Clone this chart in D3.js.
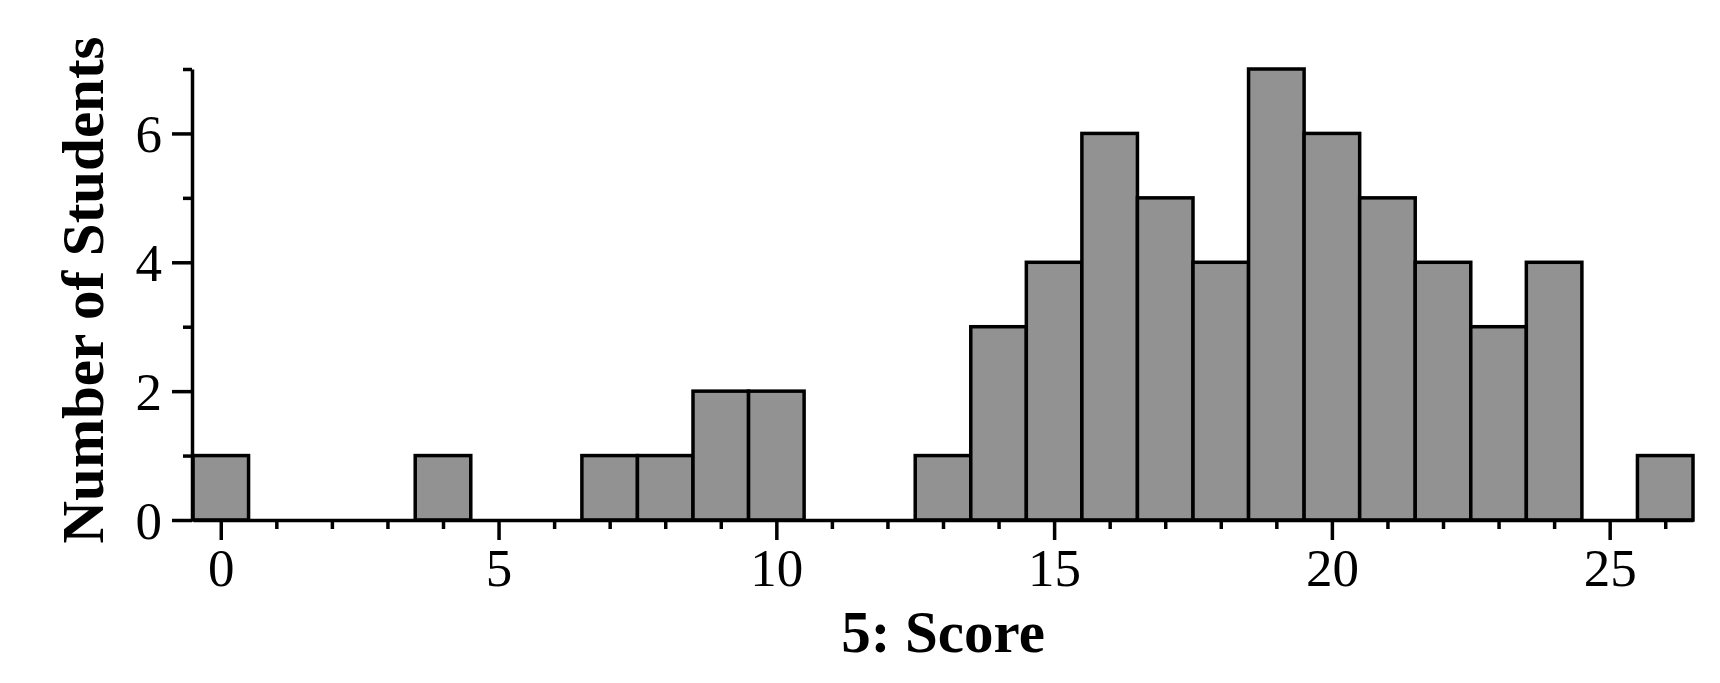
<!DOCTYPE html>
<html>
<head>
<meta charset="utf-8">
<script src="https://cdn.jsdelivr.net/npm/d3@7/dist/d3.min.js"></script>
<style>
  html, body { margin: 0; padding: 0; background: #fff; }
  svg { display: block; }
  text { font-family: "Liberation Serif", "Times New Roman", serif; fill: #000; }
</style>
</head>
<body>
<script>
// Data: score bins (0..26) and student counts
const scores = [0,1,2,3,4,5,6,7,8,9,10,11,12,13,14,15,16,17,18,19,20,21,22,23,24,25,26];
const counts = [1,0,0,0,1,0,0,1,1,2,2,0,0,1,3,4,6,5,4,7,6,5,4,3,4,0,1];
const xMajorTicks = [0,5,10,15,20,25];
const yMajorTicks = [0,2,4,6];
const yMinorTicks = [1,3,5,7];
const xLabel = "5: Score";
const yLabel = "Number of Students";

const W = 1720, H = 683;
const svg = d3.select("body").append("svg").attr("width", W).attr("height", H);

const x = d3.scaleLinear().domain([-0.5, 26.5]).range([193, 1693]);
const y = d3.scaleLinear().domain([0, 7]).range([520, 69]);

// Bars
svg.append("g").selectAll("rect")
  .data(scores.map((s, i) => ({ s, c: counts[i] })).filter(d => d.c > 0))
  .join("rect")
  .attr("x", d => x(d.s - 0.5))
  .attr("width", d => x(d.s + 0.5) - x(d.s - 0.5))
  .attr("y", d => y(d.c))
  .attr("height", d => y(0) - y(d.c))
  .attr("fill", "#929292")
  .attr("stroke", "#000")
  .attr("stroke-width", 3.5);

const xMinor = scores.filter(v => xMajorTicks.indexOf(v) < 0);

// X axis minor ticks
const gxMinor = svg.append("g").attr("transform", `translate(0,${y(0)})`)
  .call(d3.axisBottom(x).tickValues(xMinor).tickSize(9).tickFormat(""));
// X axis major ticks
const gx = svg.append("g").attr("transform", `translate(0,${y(0)})`)
  .call(d3.axisBottom(x).tickValues(xMajorTicks).tickSize(20).tickSizeOuter(0)
    .tickPadding(8).tickFormat(d3.format("d")));

// Y axis minor
const gyMinor = svg.append("g").attr("transform", `translate(192,0)`)
  .call(d3.axisLeft(y).tickValues(yMinorTicks).tickSize(9).tickFormat(""));
// Y axis major
const gy = svg.append("g").attr("transform", `translate(192,0)`)
  .call(d3.axisLeft(y).tickValues(yMajorTicks).tickSize(20).tickSizeOuter(0)
    .tickPadding(10).tickFormat(d3.format("d")));

[gxMinor, gyMinor].forEach(g => g.select(".domain").remove());
[gx, gy, gxMinor, gyMinor].forEach(g => {
  g.selectAll(".domain").attr("stroke", "#000").attr("stroke-width", 3.5);
  g.selectAll(".tick line").attr("stroke", "#000").attr("stroke-width", 3.5);
  g.selectAll(".tick text")
    .attr("font-family", '"Liberation Serif", "Times New Roman", serif')
    .attr("font-size", 53).attr("fill", "#000");
});
gy.selectAll(".tick text").attr("dy", "0.34em");

// Axis titles
svg.append("text")
  .attr("x", 943).attr("y", 652)
  .attr("text-anchor", "middle")
  .attr("font-size", 59).attr("font-weight", "bold")
  .text(xLabel);

svg.append("text")
  .attr("transform", "translate(103,290) rotate(-90)")
  .attr("text-anchor", "middle")
  .attr("font-size", 59).attr("font-weight", "bold")
  .text(yLabel);
</script>
</body>
</html>
